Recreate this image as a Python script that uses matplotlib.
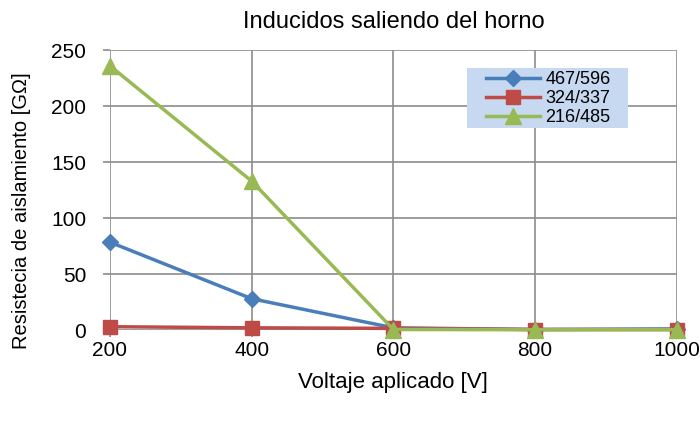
import matplotlib.pyplot as plt
import numpy as np
from matplotlib.patches import Rectangle

plt.rcParams['font.family'] = ['Liberation Sans', 'DejaVu Sans']

voltaje = [200, 400, 600, 800, 1000]
serie_467 = [78.5, 28, 2, 0.5, 1]
serie_324 = [3, 2, 1.5, 0.5, 0.5]
serie_216 = [236, 133, 0.5, 0.3, 0.3]
nombres = ["467/596", "324/337", "216/485"]

fig = plt.figure(figsize=(7, 4.21), dpi=100)
ax = fig.add_axes([0.157, 0.216, 0.81, 0.665])

ax.plot(voltaje, serie_467, color="#4a7ebb", lw=2.5, marker="D", ms=8, label=nombres[0], clip_on=False)
ax.plot(voltaje, serie_324, color="#be4b48", lw=2.5, marker="s", ms=10, label=nombres[1], clip_on=False)
ax.plot(voltaje, serie_216, color="#98b954", lw=2.5, marker="^", ms=11, label=nombres[2], clip_on=False)

ax.set_xlim(200, 1000)
ax.set_ylim(0, 250)
ax.set_xticks([200, 400, 600, 800, 1000])
ax.set_yticks(np.arange(0, 251, 50))
ax.grid(True, color="#8c8c8c", lw=1.2)
ax.set_axisbelow(True)
for s in ax.spines.values():
    s.set_visible(False)
ax.tick_params(length=5, width=1.2, color="#8c8c8c", labelsize=15)
ax.tick_params(axis="y", pad=12)
ax.tick_params(axis="x", pad=3)

ax.set_title("Inducidos saliendo del horno", fontsize=17, pad=16)
ax.set_xlabel("Voltaje aplicado [V]", fontsize=16)
ax.set_ylabel("Resistecia de aislamiento [GΩ]", fontsize=14.5)
ax.xaxis.set_label_coords(0.5, -0.15)
ax.yaxis.set_label_coords(-0.139, 0.425)

# fondo de la leyenda
ax.add_patch(Rectangle((0.63, 0.721), 0.284, 0.215, transform=ax.transAxes,
                       facecolor="#c6d9f1", edgecolor="none", zorder=3))
leg = ax.legend(loc="upper left", bbox_to_anchor=(0.663, 0.925), fontsize=13,
                frameon=False, handlelength=3.0, borderpad=0,
                labelspacing=0.12, handletextpad=0.3, borderaxespad=0)
leg.set_zorder(4)

fig.savefig("out.png")
